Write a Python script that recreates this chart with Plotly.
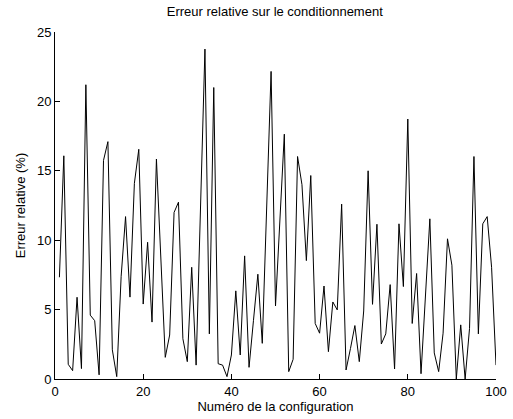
import plotly.graph_objects as go

# Relative error (%) on the conditioning, for configurations 1..100
configuration = list(range(1, 101))
erreur_relative = [
    7.33, 16.08, 1.06, 0.6, 5.89, 0.75, 21.2, 4.6, 4.2, 0.3,
    15.75, 17.1, 2.1, 0.17, 7.4, 11.7, 5.9, 14.1, 16.55, 5.4,
    9.85, 4.1, 15.85, 8.7, 1.56, 3.17, 12.0, 12.74, 2.9, 1.25,
    8.05, 1.0, 12.2, 23.77, 3.25, 21.0, 1.1, 1.0, 0.17, 1.73,
    6.35, 1.73, 8.87, 0.84, 4.2, 7.55, 2.57, 12.4, 22.16, 5.26,
    11.4, 17.64, 0.53, 1.42, 16.03, 14.0, 8.53, 14.66, 4.0, 3.3,
    6.7, 1.97, 5.55, 4.98, 12.6, 0.65, 2.2, 3.85, 1.25, 4.9,
    15.0, 5.38, 11.15, 2.52, 3.25, 6.8, 0.72, 11.18, 6.66, 18.73,
    4.0, 7.6, 0.38, 5.9, 11.54, 1.88, 0.53, 3.3, 10.1, 8.2,
    0.0, 3.9, 0.0, 3.65, 16.03, 3.25, 11.18, 11.7, 8.05, 1.0,
]

x_ticks = [0, 20, 40, 60, 80, 100]
y_ticks = [0, 5, 10, 15, 20, 25]

font_family = "Liberation Sans, Arial, Helvetica, sans-serif"

fig = go.Figure(
    go.Scatter(
        x=configuration,
        y=erreur_relative,
        mode="lines",
        line=dict(color="black", width=1),
        showlegend=False,
    )
)

axis_style = dict(
    showgrid=False,
    zeroline=False,
    showline=True,
    linecolor="black",
    linewidth=1,
    ticks="inside",
    ticklen=5,
    tickwidth=1,
    tickcolor="black",
    tickfont=dict(family=font_family, size=13, color="black"),
    mirror=False,
    automargin=False,
)

fig.update_layout(
    width=513,
    height=419,
    paper_bgcolor="white",
    plot_bgcolor="white",
    margin=dict(l=55, r=17, t=32, b=40, autoexpand=False),
    font=dict(family=font_family, size=13, color="black"),
    title=dict(
        text="Erreur relative sur le conditionnement",
        x=0.5356,
        xanchor="center",
        y=0.972,
        yanchor="middle",
        font=dict(family=font_family, size=13, color="black"),
    ),
    xaxis=dict(
        axis_style,
        range=[0, 100],
        tickvals=x_ticks,
        title=dict(text="Numéro de la configuration", standoff=2,
                   font=dict(family=font_family, size=13, color="black")),
    ),
    yaxis=dict(
        axis_style,
        range=[0, 25],
        tickvals=y_ticks,
        title=dict(text="Erreur relative (%)", standoff=8,
                   font=dict(family=font_family, size=13, color="black")),
    ),
)

fig.write_html("out.html")
